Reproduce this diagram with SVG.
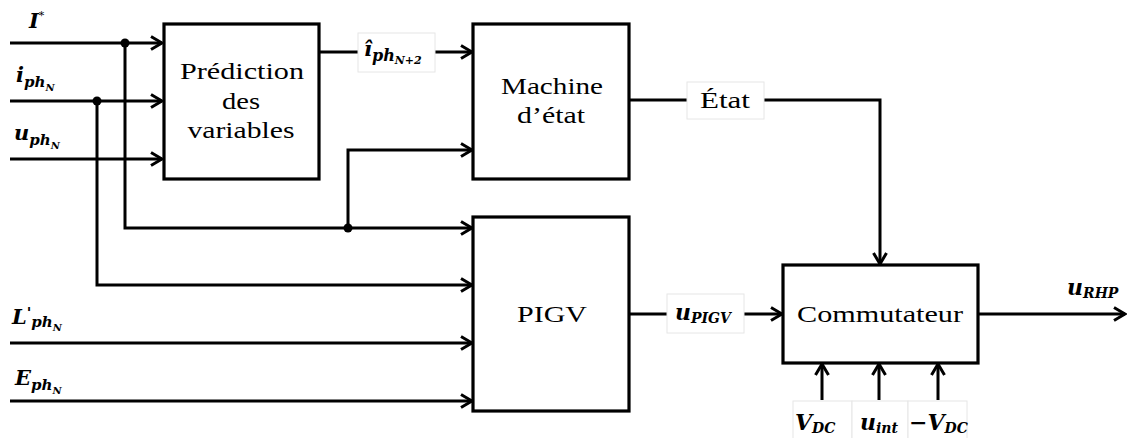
<svg xmlns="http://www.w3.org/2000/svg" width="1127" height="438" viewBox="0 0 1127 438">
<style>
.box{fill:#fff;stroke:#000;stroke-width:3.2}
.ln{fill:none;stroke:#000;stroke-width:3}
.lbl{fill:#fff;stroke:#e6e6e6;stroke-width:1}
.t{fill:#000;text-anchor:middle}
.m{font-weight:bold;font-style:italic;fill:#000}
.c{font-weight:bold;font-style:italic;fill:#000}
</style>
<defs>
<marker id="arr" markerWidth="14" markerHeight="18" refX="12" refY="9" orient="auto" markerUnits="userSpaceOnUse">
<path d="M1,2.5 L12,9 L1,15.5" fill="none" stroke="#000" stroke-width="3"/>
</marker>
</defs>
<rect width="1127" height="438" fill="#fff"/>

<g id="connectors">
<line class="ln" x1="10" y1="43" x2="162" y2="43" marker-end="url(#arr)"/>
<line class="ln" x1="10" y1="101" x2="162" y2="101" marker-end="url(#arr)"/>
<line class="ln" x1="10" y1="159" x2="162" y2="159" marker-end="url(#arr)"/>
<polyline class="ln" points="125,43 125,228 472,228" marker-end="url(#arr)"/>
<polyline class="ln" points="348,228 348,150 472,150" marker-end="url(#arr)"/>
<polyline class="ln" points="97,101 97,285 472,285" marker-end="url(#arr)"/>
<line class="ln" x1="10" y1="343" x2="472" y2="343" marker-end="url(#arr)"/>
<line class="ln" x1="10" y1="401" x2="472" y2="401" marker-end="url(#arr)"/>
<line class="ln" x1="319" y1="52" x2="472" y2="52" marker-end="url(#arr)"/>
<polyline class="ln" points="629,100 880,100 880,264" marker-end="url(#arr)"/>
<line class="ln" x1="629" y1="314" x2="782" y2="314" marker-end="url(#arr)"/>
<line class="ln" x1="978" y1="314" x2="1125" y2="314" marker-end="url(#arr)"/>
<line class="ln" x1="822" y1="400" x2="822" y2="364" marker-end="url(#arr)"/>
<line class="ln" x1="879" y1="400" x2="879" y2="364" marker-end="url(#arr)"/>
<line class="ln" x1="938" y1="400" x2="938" y2="364" marker-end="url(#arr)"/>
<circle cx="125" cy="43" r="4.5"/>
<circle cx="97" cy="101" r="4.5"/>
<circle cx="348" cy="228" r="4.5"/>
</g>

<g id="inputs" font-family="'DejaVu Serif', 'Liberation Serif', serif">
<text class="m" x="29" y="28" font-size="21">I<tspan font-size="11" dy="-9" font-weight="normal">*</tspan></text>
<text class="m" x="16" y="82" font-size="21">i<tspan font-size="15" dy="5">ph</tspan><tspan font-size="10" dy="4">N</tspan></text>
<text class="m" x="14" y="140" font-size="21">u<tspan font-size="15" dy="5">ph</tspan><tspan font-size="10" dy="4">N</tspan></text>
<text class="m" x="12" y="324" font-size="21">L<tspan dy="-6" font-size="15" font-style="normal">'</tspan><tspan font-size="15" dy="9">ph</tspan><tspan font-size="10" dy="4">N</tspan></text>
<text class="m" x="15" y="385" font-size="21">E<tspan font-size="15" dy="5">ph</tspan><tspan font-size="10" dy="4">N</tspan></text>
</g>

<g id="prediction" font-family="'Liberation Serif', 'Times New Roman', serif" font-size="24">
<rect class="box" x="164" y="24" width="155" height="155"/>
<text class="t" x="242" y="79" textLength="124" lengthAdjust="spacingAndGlyphs">Prédiction</text>
<text class="t" x="241" y="109" textLength="38" lengthAdjust="spacingAndGlyphs">des</text>
<text class="t" x="241" y="138" textLength="107" lengthAdjust="spacingAndGlyphs">variables</text>
</g>

<g id="ihat-label" font-family="'DejaVu Serif', serif">
<rect class="lbl" x="358" y="33" width="77" height="39"/>
<text class="c" x="364" y="56" font-size="21">î<tspan font-size="16" dy="5">ph</tspan><tspan font-size="11" dy="3">N+2</tspan></text>
</g>

<g id="machine" font-family="'Liberation Serif', 'Times New Roman', serif" font-size="24">
<rect class="box" x="473" y="24" width="156" height="155"/>
<text class="t" x="552" y="94" textLength="102" lengthAdjust="spacingAndGlyphs">Machine</text>
<text class="t" x="551" y="123" textLength="68" lengthAdjust="spacingAndGlyphs">d’état</text>
</g>

<g id="etat-label" font-family="'Liberation Serif', 'Times New Roman', serif" font-size="24">
<rect class="lbl" x="687" y="82" width="77" height="37"/>
<text class="t" x="725" y="108" textLength="50" lengthAdjust="spacingAndGlyphs">État</text>
</g>

<g id="pigv" font-family="'Liberation Serif', 'Times New Roman', serif" font-size="24">
<rect class="box" x="473" y="217" width="156" height="194"/>
<text class="t" x="552" y="322" textLength="70" lengthAdjust="spacingAndGlyphs">PIGV</text>
</g>

<g id="upigv-label" font-family="'DejaVu Serif', serif">
<rect class="lbl" x="667" y="294" width="77" height="39"/>
<text class="c" x="675" y="320" font-size="22">u<tspan font-size="14" dy="3">PIGV</tspan></text>
</g>

<g id="commutateur" font-family="'Liberation Serif', 'Times New Roman', serif" font-size="24">
<rect class="box" x="783" y="265" width="195" height="98"/>
<text class="t" x="880" y="322" textLength="166" lengthAdjust="spacingAndGlyphs">Commutateur</text>
</g>

<g id="urhp-label" font-family="'DejaVu Serif', serif">
<text class="c" x="1067" y="295" font-size="22">u<tspan font-size="14" dy="3">RHP</tspan></text>
</g>

<g id="bottom-labels" font-family="'DejaVu Serif', serif">
<rect class="lbl" x="793" y="401" width="59" height="40"/>
<rect class="lbl" x="852" y="401" width="56" height="40"/>
<rect class="lbl" x="908" y="401" width="59" height="40"/>
<text class="c" x="795" y="430" font-size="22">V<tspan font-size="14" dy="3">DC</tspan></text>
<text class="c" x="860" y="430" font-size="22">u<tspan font-size="14" dy="3">int</tspan></text>
<text class="c" x="909" y="430" font-size="22">−V<tspan font-size="14" dy="3">DC</tspan></text>
</g>
</svg>
